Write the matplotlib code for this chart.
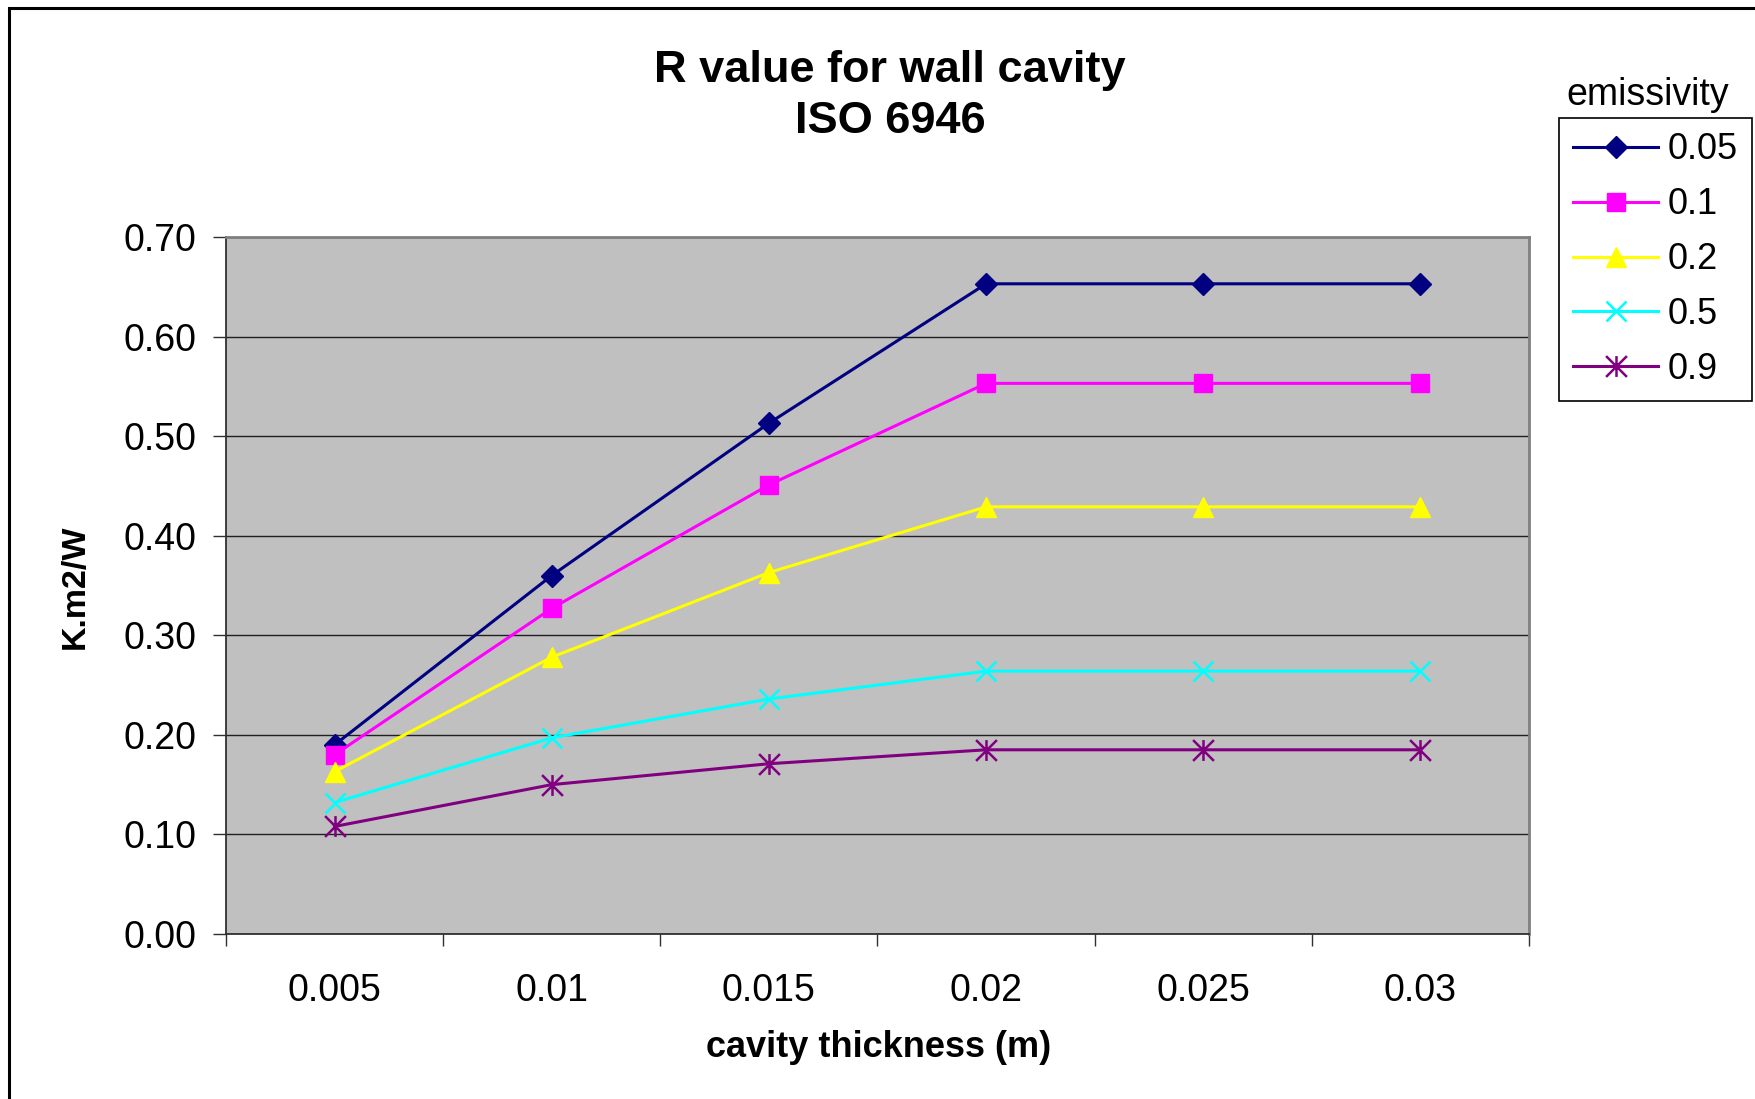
import matplotlib
matplotlib.use("Agg")
import matplotlib.pyplot as plt
from matplotlib.path import Path
from matplotlib.patches import Rectangle
from matplotlib.ticker import FixedLocator, NullFormatter

plt.rcParams['font.family'] = ['Liberation Sans', 'DejaVu Sans']

# cavity thickness categories (m)
thickness = ['0.005', '0.01', '0.015', '0.02', '0.025', '0.03']

# thermal resistance R (K.m2/W) for each surface emissivity
r_e005 = [0.190, 0.360, 0.513, 0.653, 0.653, 0.653]
r_e01 = [0.180, 0.327, 0.451, 0.553, 0.553, 0.553]
r_e02 = [0.163, 0.278, 0.363, 0.429, 0.429, 0.429]
r_e05 = [0.132, 0.197, 0.236, 0.264, 0.264, 0.264]
r_e09 = [0.108, 0.150, 0.171, 0.185, 0.185, 0.185]

emissivity_labels = ['0.05', '0.1', '0.2', '0.5', '0.9']
y_ticks = [0.0, 0.1, 0.2, 0.3, 0.4, 0.5, 0.6, 0.7]

# asterisk marker: an x crossed by a vertical stroke
star = Path([(-1, -1), (1, 1), (-1, 1), (1, -1), (0, -1), (0, 1)],
            [Path.MOVETO, Path.LINETO, Path.MOVETO, Path.LINETO,
             Path.MOVETO, Path.LINETO])

series = [
    (r_e005, '#000080', 'D', 11, 1.0),
    (r_e01, '#FF00FF', 's', 12.5, 1.0),
    (r_e02, '#FFFF00', '^', 15, 1.0),
    (r_e05, '#00FFFF', 'x', 15, 1.8),
    (r_e09, '#800080', star, 15, 1.8),
]

W, H = 1756, 1099
fig = plt.figure(figsize=(W / 100, H / 100), dpi=100)
ax = fig.add_axes([226 / W, 1 - 934 / H, (1529 - 226) / W, (934 - 237) / H])
ax.set_facecolor('#C0C0C0')

x = list(range(len(thickness)))
handles = []
for vals, color, marker, ms, mew in series:
    ln, = ax.plot(x, vals, color=color, lw=2.2, marker=marker, ms=ms,
                  mfc=color, mec=color, mew=mew, zorder=3)
    handles.append(ln)

ax.set_xlim(-0.5, len(thickness) - 0.5)
ax.set_ylim(0, 0.7)

# horizontal gridlines
ax.set_yticks(y_ticks)
ax.set_yticklabels([f'{v:.2f}' for v in y_ticks])
ax.yaxis.grid(True, color='#202020', lw=1.0)
ax.set_axisbelow(True)

# category boundaries carry the tick marks, category centres carry the labels
ax.xaxis.set_major_locator(FixedLocator([i - 0.5 for i in range(len(thickness) + 1)]))
ax.xaxis.set_major_formatter(NullFormatter())
ax.xaxis.set_minor_locator(FixedLocator(x))
ax.set_xticklabels(thickness, minor=True)

ax.tick_params(axis='y', which='major', direction='out', length=9.4, width=1.0,
               color='#303030', pad=12, labelsize=27)
ax.tick_params(axis='x', which='major', direction='out', length=8.6, width=1.0,
               color='#303030')
ax.tick_params(axis='x', which='minor', length=0, pad=28, labelsize=27)

for side in ('left', 'bottom'):
    ax.spines[side].set_color('#303030')
    ax.spines[side].set_linewidth(1.3)
for side in ('top', 'right'):
    ax.spines[side].set_color('#808080')
    ax.spines[side].set_linewidth(2.0)

# titles and axis labels
fig.text(890 / W, 1 - 82 / H, 'R value for wall cavity', ha='center', va='baseline',
         fontsize=32.5, fontweight='bold')
fig.text(890 / W, 1 - 133 / H, 'ISO 6946', ha='center', va='baseline',
         fontsize=32.5, fontweight='bold')
fig.text(879 / W, 1 - 1057 / H, 'cavity thickness (m)', ha='center', va='baseline',
         fontsize=26, fontweight='bold')
fig.text(75 / W, 1 - 587 / H, 'K.m2/W', ha='center', va='center', rotation=90,
         fontsize=24.5, fontweight='bold')

# legend with its heading above the frame
leg = fig.legend(handles, emissivity_labels, loc='upper left',
                 bbox_to_anchor=(1559 / W, 1 - 118 / H), bbox_transform=fig.transFigure,
                 borderaxespad=0, fontsize=26, frameon=True, fancybox=False,
                 edgecolor='black', framealpha=1, handlelength=2.35,
                 handletextpad=0.25, labelspacing=0.55, borderpad=0.4)
leg.get_frame().set_linewidth(1.2)
fig.text(1648 / W, 1 - 105 / H, 'emissivity', ha='center', va='baseline', fontsize=27)

# outer chart border
fig.patches.append(Rectangle((9 / W, -0.1), 1.2, 1.1 - 8 / H,
                             transform=fig.transFigure, fill=False,
                             edgecolor='black', lw=2.2, clip_on=False))

fig.savefig('out.png', dpi=100)
